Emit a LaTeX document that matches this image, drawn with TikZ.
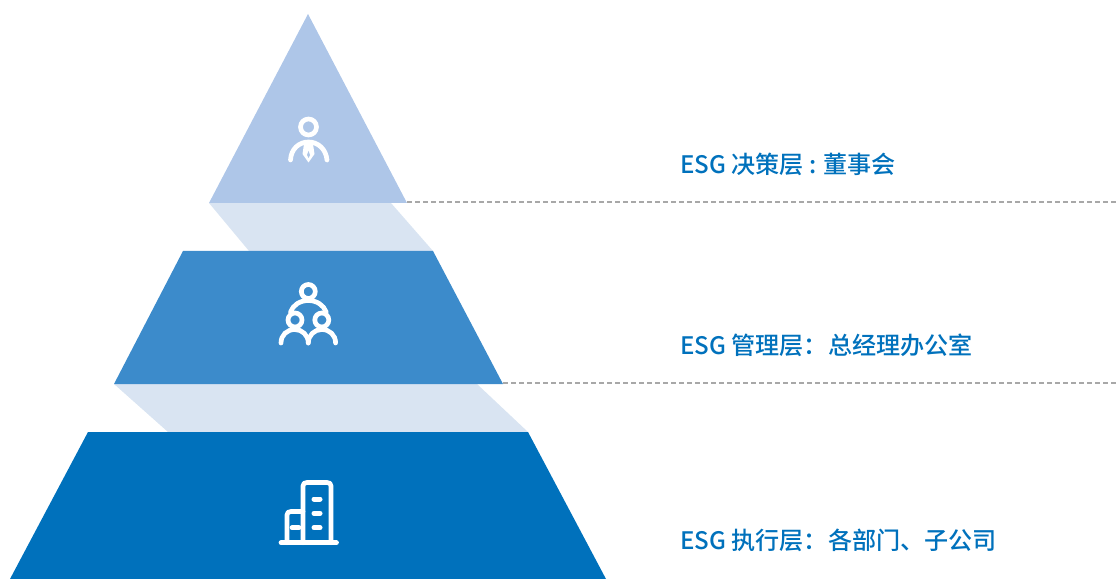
\documentclass[tikz,border=0pt]{standalone}
\usepackage{fontspec}
\newfontfamily\cjk{Noto Sans CJK SC Medium}
\definecolor{topblue}{HTML}{AEC6E8}
\definecolor{midblue}{HTML}{3C8BCB}
\definecolor{lowblue}{HTML}{0071BC}
\definecolor{ribbon}{HTML}{D9E4F2}
\definecolor{dashgrey}{HTML}{A8A8A8}
\tikzset{
  lbl/.style={anchor=west,inner sep=0pt,text=lowblue,font=\cjk\fontsize{24.1bp}{26bp}\selectfont},
  guide/.style={draw=dashgrey,line width=1.4bp,dash pattern=on 5bp off 3bp},
  icon/.style={draw=white,line width=4.7bp,line cap=round,line join=round,fill=none}
}
\begin{document}
\begin{tikzpicture}[x=1bp,y=-1bp]
\useasboundingbox (0,0) rectangle (1118,579);
% ribbons
\fill[ribbon] (209,203) -- (391,203) -- (433,251) -- (249,251) -- cycle;
\fill[ribbon] (114,384) -- (477,384) -- (528,432) -- (168,432) -- cycle;
% tiers
\fill[topblue] (308,14) -- (407,203) -- (209,203) -- cycle;
\fill[midblue] (183,251) -- (433,251) -- (503,384) -- (114,384) -- cycle;
\fill[lowblue] (88,432) -- (528,432) -- (606,579) -- (10,579) -- cycle;
% guides
\coordinate (g1a) at (407,202);
\coordinate (g1b) at (1116,202);
\coordinate (g2a) at (503,383);
\coordinate (g2b) at (1116,383);
\draw[guide] (g1a) -- (g1b);
\draw[guide] (g2a) -- (g2b);
% labels
\node[lbl] (l1) at (680,164) {ESG 决策层 : 董事会};
\node[lbl] (l2) at (680,345) {ESG 管理层：总经理办公室};
\node[lbl] (l3) at (680,540) {ESG 执行层：各部门、子公司};
% icon 1
\draw[icon] (308.5,127) circle (8);
\draw[icon] (290.5,160) .. controls (291,149) and (299,142) .. (308.5,142) .. controls (318,142) and (326,149) .. (327,160);
\fill[white] (304,144) -- (313,144) -- (314.5,154) -- (308.5,162.5) -- (302.5,154) -- cycle;
\fill[topblue] (308.5,151) -- (310,155) -- (308.5,158) -- (307,155) -- cycle;
% icon 2
\draw[icon] (308.3,291.5) circle (7);
\draw[icon] (295,320) circle (7);
\draw[icon] (321.8,320) circle (7);
\draw[icon] (290.5,312) .. controls (293,305) and (300,300.5) .. (308.3,300.5) .. controls (316.6,300.5) and (323.6,305) .. (326.2,312);
\draw[icon] (281,343) .. controls (281,335) and (287,329.5) .. (294.8,329.5) .. controls (302,329.5) and (308.3,335) .. (308.3,343);
\draw[icon] (308.3,343) .. controls (308.3,335) and (314.6,329.5) .. (321.8,329.5) .. controls (329.6,329.5) and (335.6,335) .. (335.6,343);
% icon 3
\draw[icon] (281,542.7) -- (336.5,542.7);
\draw[icon] (303,542.7) -- (303,486) .. controls (303,483.5) and (304.5,482.5) .. (307,482.5) -- (327,482.5) .. controls (329.5,482.5) and (331,483.5) .. (331,486) -- (331,542.7);
\draw[icon] (287,542.7) -- (287,515) .. controls (287,512.5) and (288.5,511.5) .. (291,511.5) -- (303,511.5);
\draw[icon,line width=5bp] (314,499) -- (320,499);
\draw[icon,line width=5bp] (314,513.3) -- (320,513.3);
\draw[icon,line width=5bp] (314,527.7) -- (320,527.7);
\draw[icon] (292,527.7) -- (299,527.7);
\end{tikzpicture}
\end{document}
